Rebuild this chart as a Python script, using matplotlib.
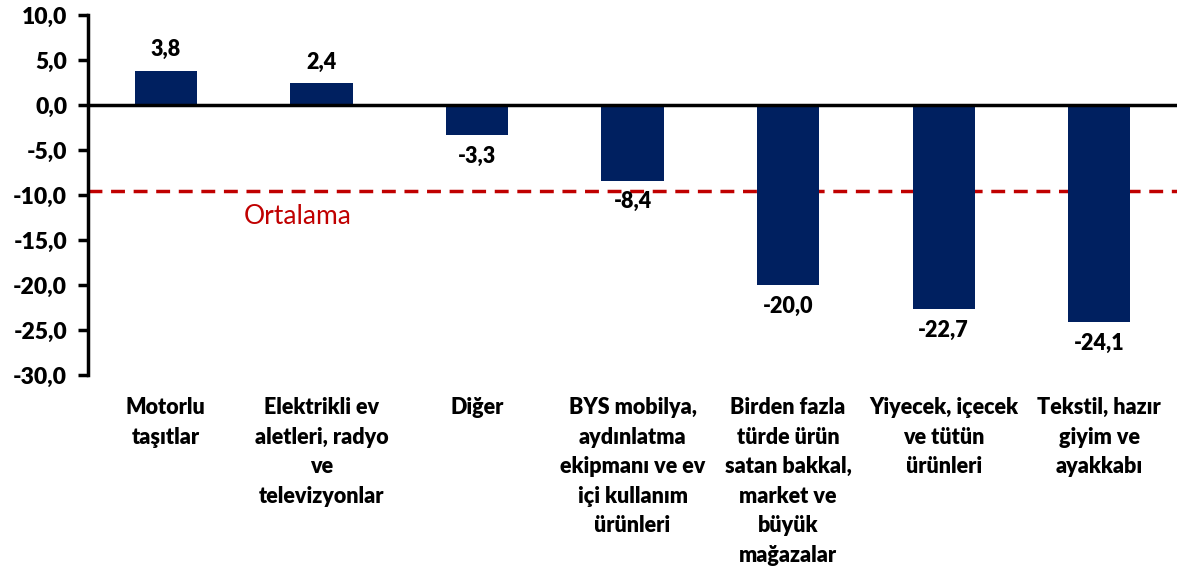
import matplotlib.pyplot as plt
from matplotlib.ticker import FuncFormatter

plt.rcParams['font.family'] = ['Lato', 'DejaVu Sans']

categories = [
    "Motorlu\ntaşıtlar",
    "Elektrikli ev\naletleri, radyo\nve\ntelevizyonlar",
    "Diğer",
    "BYS mobilya,\naydınlatma\nekipmanı ve ev\niçi kullanım\nürünleri",
    "Birden fazla\ntürde ürün\nsatan bakkal,\nmarket ve\nbüyük\nmağazalar",
    "Yiyecek, içecek\nve tütün\nürünleri",
    "Tekstil, hazır\ngiyim ve\nayakkabı",
]
values = [3.8, 2.4, -3.3, -8.4, -20.0, -22.7, -24.1]
average = -9.6
yticks = [10, 5, 0, -5, -10, -15, -20, -25, -30]

navy = "#002060"
red = "#C00000"
W = "heavy"


def tr(v, _=None):
    return f"{v:.1f}".replace(".", ",")


fig = plt.figure(figsize=(11.77, 5.66), dpi=100)
ax = fig.add_axes([0.0748, 0.3375, 0.9252, 0.636])

x = range(len(values))
ax.bar(x, values, width=0.4, color=navy, zorder=2)

for i, v in enumerate(values):
    if v >= 0:
        ax.text(i, v + 1.2, tr(v), ha="center", va="bottom", fontsize=15.5, fontweight=W)
    else:
        ax.text(i, v - 1.2, tr(v), ha="center", va="top", fontsize=15.5, fontweight=W)

ax.axhline(0, color="black", linewidth=2.5, zorder=3)
ax.axhline(average, color=red, linewidth=2.5, linestyle=(0, (4, 2.5)), zorder=1)
ax.text(0.85, -12.4, "Ortalama", color=red, fontsize=19, ha="center", va="center")

ax.set_xlim(-0.5, len(values) - 0.5)
ax.set_ylim(-30, 10)
ax.set_yticks(yticks)
ax.yaxis.set_major_formatter(FuncFormatter(tr))
ax.set_xticks(list(x))
ax.set_xticklabels(categories, fontsize=15.5, fontweight=W, linespacing=1.5, va="top")

ax.tick_params(axis="y", direction="out", length=7, width=2.5, labelsize=16.5, pad=8)
ax.tick_params(axis="x", length=0, pad=16)
for lbl in ax.get_yticklabels():
    lbl.set_fontweight(W)

for s in ["top", "right", "bottom"]:
    ax.spines[s].set_visible(False)
ax.spines["left"].set_linewidth(2.5)

fig.savefig("out.png", dpi=100)
